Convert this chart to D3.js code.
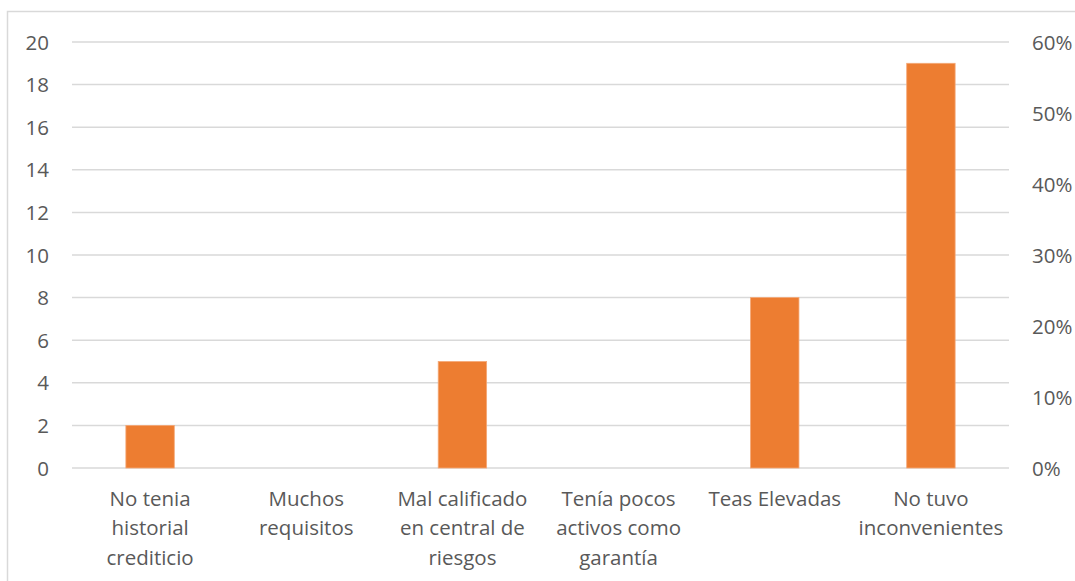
<!DOCTYPE html>
<html>
<head>
<meta charset="utf-8">
<script src="https://cdn.jsdelivr.net/npm/d3@7"></script>
<style>
  html, body { margin: 0; padding: 0; background: #ffffff; }
  svg { display: block; }
  text { font-family: "Open Sans", "Noto Sans", sans-serif; fill: #595959; }
</style>
</head>
<body>
<svg id="chart" width="1075" height="581"></svg>
<script>
// Categories (line breaks mark where the labels wrap)
const categories = [
  "No tenia\nhistorial\ncrediticio",
  "Muchos\nrequisitos",
  "Mal calificado\nen central de\nriesgos",
  "Tenía pocos\nactivos como\ngarantía",
  "Teas Elevadas",
  "No tuvo\ninconvenientes"
];
const counts = [2, 0, 5, 0, 8, 19];
const leftTicks = [0, 2, 4, 6, 8, 10, 12, 14, 16, 18, 20];
const rightTicks = [0, 0.1, 0.2, 0.3, 0.4, 0.5, 0.6];

const svg = d3.select("#chart");
const W = 1075, H = 581;
const plot = { left: 72, right: 1009, top: 42, bottom: 468 };
const FS = 20.5;

// Outer chart border
svg.append("rect")
  .attr("x", 7.5).attr("y", 11.5)
  .attr("width", W + 10).attr("height", H + 10)
  .attr("fill", "none").attr("stroke", "#d9d9d9").attr("stroke-width", 1.5);

const x = d3.scaleBand()
  .domain(categories)
  .range([plot.left, plot.right])
  .paddingInner(0.69).paddingOuter(0.345);

const y = d3.scaleLinear().domain([0, 20]).range([plot.bottom, plot.top]);
const yPct = d3.scaleLinear().domain([0, 0.6]).range([plot.bottom, plot.top]);

// Gridlines
svg.append("g")
  .selectAll("line")
  .data(leftTicks)
  .join("line")
  .attr("x1", plot.left).attr("x2", plot.right)
  .attr("y1", d => y(d)).attr("y2", d => y(d))
  .attr("stroke", "#d9d9d9").attr("stroke-width", 1.5);

// Bars
svg.append("g")
  .selectAll("rect")
  .data(counts)
  .join("rect")
  .attr("x", (d, i) => x(categories[i]))
  .attr("width", x.bandwidth())
  .attr("y", d => y(d))
  .attr("height", d => y(0) - y(d))
  .attr("fill", "#ed7d31")
  .attr("stroke", "#f4a877").attr("stroke-width", 0.8);

// Left axis
const leftAxis = d3.axisLeft(y).tickValues(leftTicks).tickSize(0).tickPadding(0);
const gl = svg.append("g").attr("transform", `translate(49,0)`).call(leftAxis);
gl.select(".domain").remove();
gl.selectAll("text").attr("font-size", FS).attr("dy", "0.35em")
  .style("font-family", "'Open Sans', sans-serif").attr("fill", "#595959");

// Right axis
const rightAxis = d3.axisRight(yPct).tickValues(rightTicks).tickSize(0).tickPadding(0)
  .tickFormat(d3.format(".0%"));
const gr = svg.append("g").attr("transform", `translate(1032,0)`).call(rightAxis);
gr.select(".domain").remove();
gr.selectAll("text").attr("font-size", FS).attr("dy", "0.35em")
  .style("font-family", "'Open Sans', sans-serif").attr("fill", "#595959");

// Category labels
const labels = svg.append("g")
  .selectAll("text")
  .data(categories)
  .join("text")
  .attr("text-anchor", "middle")
  .attr("font-size", FS)
  .attr("x", d => x(d) + x.bandwidth() / 2);
labels.selectAll("tspan")
  .data(d => d.split("\n"))
  .join("tspan")
  .attr("x", function () { return d3.select(this.parentNode).attr("x"); })
  .attr("y", (d, i) => 505.5 + i * 29.5)
  .text(d => d);
</script>
</body>
</html>
